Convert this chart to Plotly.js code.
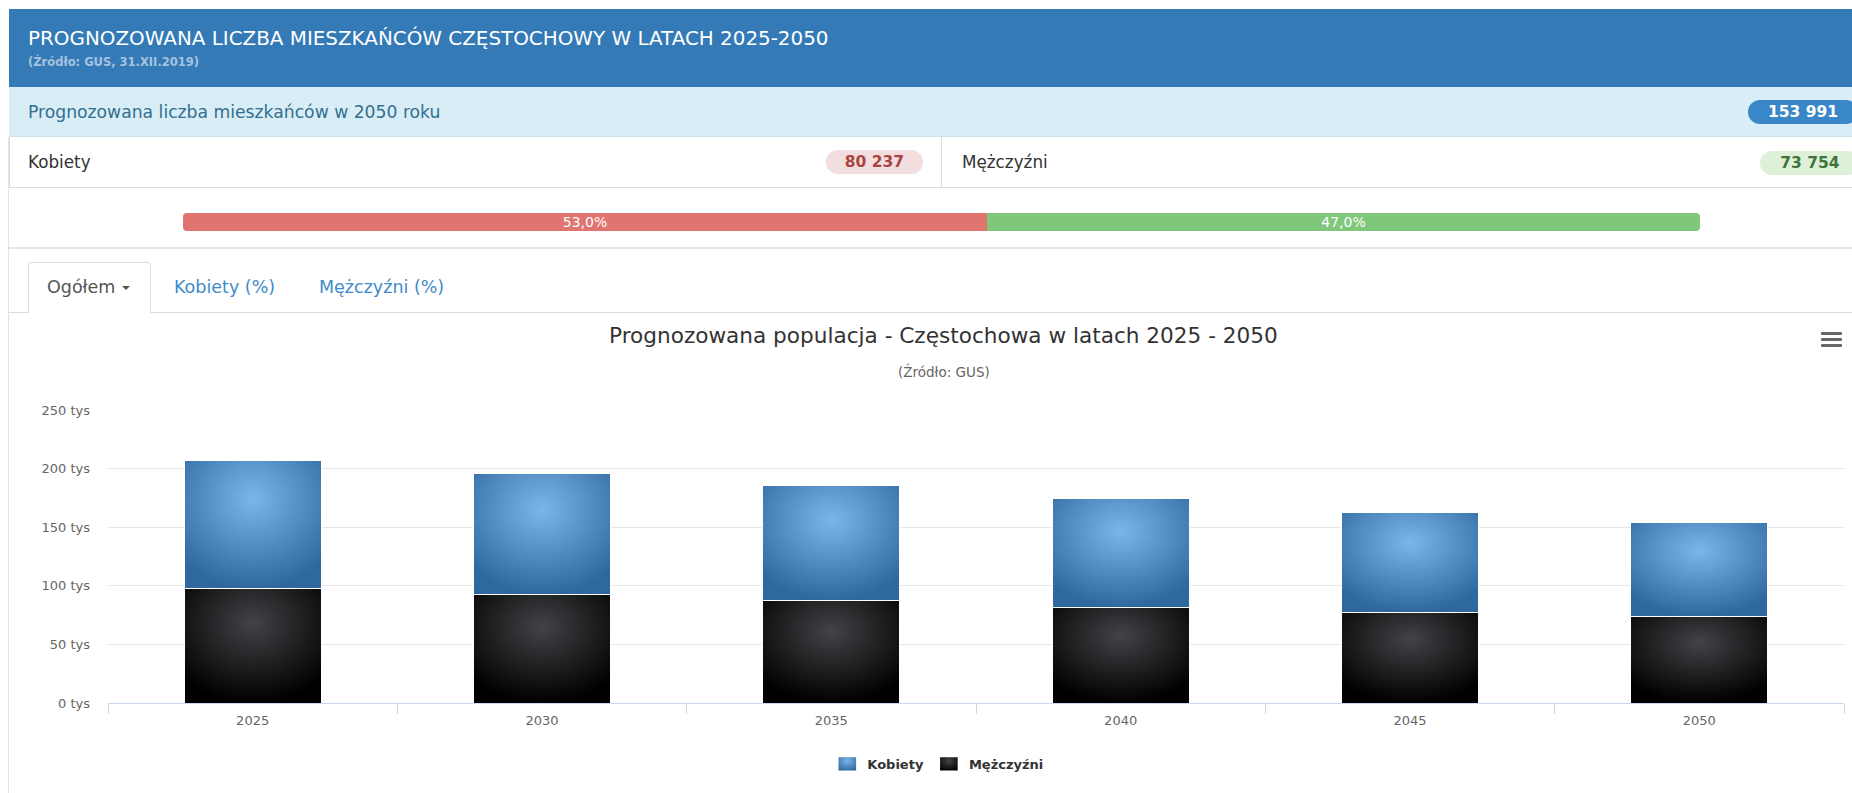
<!DOCTYPE html>
<html lang="pl">
<head>
<meta charset="utf-8">
<script src="https://cdn.plot.ly/plotly-3.0.1.min.js"></script>
<style>
  html, body { margin:0; padding:0; background:#fff; width:1852px; height:793px; overflow:hidden;
    font-family:"DejaVu Sans", Verdana, sans-serif; }
  .abs { position:absolute; box-sizing:border-box; }
  #header { left:9px; top:9px; width:1843px; height:78px; background:#337ab7; }
  #htitle { left:28px; top:27px; color:#fff; font-size:19.9px; line-height:24px; white-space:nowrap; }
  #hsub { left:28px; top:55px; color:#a7c3df; font-size:11.5px; font-weight:bold; line-height:14px; white-space:nowrap; }
  #inforow { left:9px; top:87px; width:1843px; height:50px; background:#d9edf7; border-bottom:1px solid #cfe0ea; }
  #infotext { left:28px; top:101px; color:#31708f; font-size:17.2px; line-height:22px; white-space:nowrap; }
  .badge { border-radius:12px; font-weight:bold; font-size:15.5px; text-align:center; white-space:nowrap; }
  #btotal { left:1748px; top:100px; width:110px; height:24px; line-height:24px; background:#3a87c8; color:#fff; }
  #row2 { left:9px; top:137px; width:1843px; height:51px; background:#fff; border-bottom:1px solid #ddd; border-left:1px solid #ddd; }
  #divider { left:941px; top:137px; width:1px; height:50px; background:#ddd; }
  #tk { left:28px; top:151px; color:#333; font-size:16.8px; line-height:22px; }
  #tm { left:962px; top:151px; color:#333; font-size:16.8px; line-height:22px; }
  #bk { left:826px; top:150px; width:97px; height:24px; line-height:24px; background:#f2dede; color:#a94442; }
  #bm { left:1760px; top:151px; width:100px; height:24px; line-height:24px; background:#dff0d8; color:#3c763d; }
  #prog { left:183px; top:213px; width:1517px; height:18px; border-radius:4px; overflow:hidden; display:flex; }
  #prog div { height:18px; line-height:18px; color:#fff; font-size:14px; text-align:center; }
  #pk { background:#e07470; }
  #pm { background:#7ec77b; }
  #sep1 { left:9px; top:247px; width:1843px; height:2px; background:#e6e6e6; }
  #panelL { left:8px; top:137px; width:1px; height:656px; background:#e3e3e3; }
  #tabline { left:9px; top:312px; width:1843px; height:1px; background:#ddd; }
  #tab1 { left:28px; top:262px; width:123px; height:51px; background:#fff; border:1px solid #ddd; border-bottom:none;
    border-radius:4px 4px 0 0; }
  .tabtxt { font-size:17.5px; line-height:22px; white-space:nowrap; }
  #t1 { left:47px; top:276px; color:#555; }
  #caret { left:122px; top:286px; width:0; height:0; border-left:4px solid transparent; border-right:4px solid transparent; border-top:4px solid #555; }
  #t2 { left:174px; top:276px; color:#428bca; }
  #t3 { left:319px; top:276px; color:#428bca; }
  #chart { left:9px; top:313px; width:1843px; height:480px; }
  .hb { left:1821px; width:21px; height:3px; background:#666; border-radius:1px; }
</style>
</head>
<body>
<div class="abs" id="header"></div>
<div class="abs" id="htitle">PROGNOZOWANA LICZBA MIESZKAŃCÓW CZĘSTOCHOWY W LATACH 2025-2050</div>
<div class="abs" id="hsub">(Źródło: GUS, 31.XII.2019)</div>
<div class="abs" id="inforow"></div>
<div class="abs" id="infotext">Prognozowana liczba mieszkańców w 2050 roku</div>
<div class="abs badge" id="btotal"></div>
<div class="abs" id="row2"></div>
<div class="abs" id="divider"></div>
<div class="abs" id="tk">Kobiety</div>
<div class="abs badge" id="bk"></div>
<div class="abs" id="tm">Mężczyźni</div>
<div class="abs badge" id="bm"></div>
<div class="abs" id="prog"><div id="pk"></div><div id="pm"></div></div>
<div class="abs" id="sep1"></div>
<div class="abs" id="panelL"></div>
<div class="abs" id="tabline"></div>
<div class="abs" id="tab1"></div>
<div class="abs tabtxt" id="t1">Ogółem</div>
<div class="abs" id="caret"></div>
<div class="abs tabtxt" id="t2">Kobiety (%)</div>
<div class="abs tabtxt" id="t3">Mężczyźni (%)</div>
<div class="abs" id="chart"></div>
<div class="abs hb" style="top:332px"></div>
<div class="abs hb" style="top:338px"></div>
<div class="abs hb" style="top:344px"></div>
<script>
// ---- data ----
var years = ['2025', '2030', '2035', '2040', '2045', '2050'];
var kobiety = [109200, 103800, 98300, 92400, 84900, 80237];
var mezczyzni = [97400, 92300, 87200, 81800, 77600, 73754];
var yTickVals = [0, 50000, 100000, 150000, 200000, 250000];
var seriesNames = ['Kobiety', 'Mężczyźni'];
var shareLabels = ['53,0%', '47,0%'];
var shareValues = [53.0, 47.0];
var total2050 = 153991;

function fmt(n) { return String(n).replace(/\B(?=(\d{3})+(?!\d))/g, ' '); }
var last = years.length - 1;
document.getElementById('btotal').textContent = fmt(total2050);
document.getElementById('bk').textContent = fmt(kobiety[last]);
document.getElementById('bm').textContent = fmt(mezczyzni[last]);
var pk = document.getElementById('pk'), pm = document.getElementById('pm');
pk.style.width = shareValues[0] + '%'; pk.textContent = shareLabels[0];
pm.style.width = shareValues[1] + '%'; pm.textContent = shareLabels[1];

var FONT = '"DejaVu Sans", Verdana, sans-serif';
var traces = [
  { type:'bar', name:seriesNames[1], x:years, y:mezczyzni,
    marker:{ color:'#434348', line:{ color:'#ffffff', width:1 } }, hoverinfo:'none' },
  { type:'bar', name:seriesNames[0], x:years, y:kobiety,
    marker:{ color:'#7cb5ec', line:{ color:'#ffffff', width:1 } }, hoverinfo:'none' }
];
var layout = {
  width:1843, height:480,
  margin:{ l:99, r:8, t:97, b:90 },
  paper_bgcolor:'rgba(0,0,0,0)', plot_bgcolor:'rgba(0,0,0,0)',
  font:{ family:FONT, color:'#666', size:13 },
  barmode:'stack', bargap:0.526,
  title:{ text:'Prognozowana populacja - Częstochowa w latach 2025 - 2050',
    font:{ family:FONT, size:21.6, color:'#333' },
    xref:'container', yref:'container', x:0.507, xanchor:'center', y:0.954, yanchor:'middle' },
  annotations:[{ text:'(Źródło: GUS)', xref:'paper', yref:'paper', x:0.4813, y:1.133,
    xanchor:'center', yanchor:'middle', showarrow:false, font:{ family:FONT, size:13.5, color:'#666' } }],
  xaxis:{ type:'category', showline:true, linecolor:'#ccd6eb', linewidth:1, ticks:'outside',
    tickson:'boundaries', ticklen:10, tickcolor:'#ccd6eb', tickwidth:1, showgrid:false,
    ticklabelstandoff:5,
    tickfont:{ family:FONT, size:13, color:'#666' }, fixedrange:true },
  yaxis:{ range:[0, 250000], tickvals:yTickVals,
    ticktext:yTickVals.map(function(v){ return (v/1000) + ' tys'; }),
    gridcolor:'#e6e6e6', gridwidth:1, zeroline:false, showline:false, ticks:'',
    ticklabelstandoff:17, tickfont:{ family:FONT, size:13, color:'#666' }, fixedrange:true },
  showlegend:true,
  legend:{ orientation:'h', traceorder:'reversed', x:0.478, xanchor:'center', y:-0.208, yanchor:'middle',
    font:{ family:FONT, size:13, color:'#333', weight:'bold' }, itemwidth:30 }
};
Plotly.newPlot('chart', traces, layout, { displayModeBar:false, staticPlot:true }).then(function(gd) {
  var svg = gd.querySelector('svg.main-svg');
  var NS = 'http://www.w3.org/2000/svg';
  var defs = svg.querySelector('defs') || svg.insertBefore(document.createElementNS(NS, 'defs'), svg.firstChild);
  function grad(id, c0, c1) {
    var g = document.createElementNS(NS, 'radialGradient');
    g.setAttribute('id', id); g.setAttribute('cx', '0.5'); g.setAttribute('cy', '0.3'); g.setAttribute('r', '0.7');
    [[0, c0], [1, c1]].forEach(function(s) {
      var st = document.createElementNS(NS, 'stop');
      st.setAttribute('offset', s[0]); st.setAttribute('stop-color', s[1]);
      g.appendChild(st);
    });
    defs.appendChild(g);
  }
  grad('gradM', '#434348', '#000000');
  grad('gradK', '#7cb5ec', '#2f689f');
  var ids = ['gradM', 'gradK'];
  gd.querySelectorAll('.barlayer .trace').forEach(function(t, i) {
    t.querySelectorAll('path').forEach(function(p) { p.style.fill = 'url(#' + ids[i] + ')'; });
  });
  gd.querySelectorAll('.legend .traces').forEach(function(t) {
    var name = t.textContent;
    var id = name.indexOf('Kobiety') >= 0 ? 'gradK' : 'gradM';
    t.querySelectorAll('.legendpoints path').forEach(function(p) {
      p.style.fill = 'url(#' + id + ')';
      p.setAttribute('transform', 'translate(20,0) scale(1.6,1.2)');
    });
  });
});
</script>
</body>
</html>
